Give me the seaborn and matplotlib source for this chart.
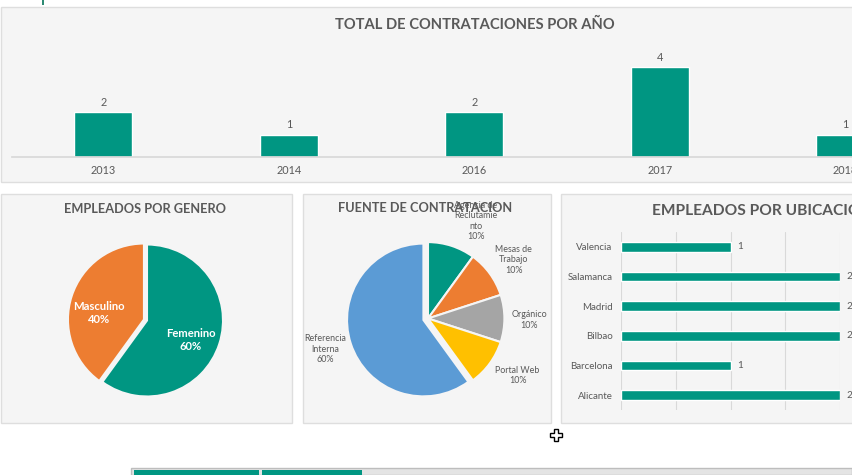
"""
Panel de contrataciones (recreated dashboard)
"""

import matplotlib
matplotlib.use("Agg")
import matplotlib.pyplot as plt
from matplotlib.lines import Line2D
from matplotlib.patches import Rectangle
import seaborn as sns

# --- Data ---
years = ["2013", "2014", "2016", "2017", "2018"]
hires_per_year = [2, 1, 2, 4, 1]

gender_labels = ["Femenino", "Masculino"]
gender_values = [60, 40]

source_labels = ["Agencia de\nReclutamie\nnto", "Mesas de\nTrabajo", "Orgánico", "Portal Web", "Referencia\nInterna"]
source_values = [10, 10, 10, 10, 60]

cities = ["Valencia", "Salamanca", "Madrid", "Bilbao", "Barcelona", "Alicante"]
city_values = [1, 2, 2, 2, 1, 2]

W, H = 852, 475
TEAL = "#009682"
ORANGE = "#ED7D31"
TEXT = "#595959"
PANEL = "#F5F5F5"
BORDER = "#DEDEDE"
SOURCE_COLORS = [TEAL, ORANGE, "#A5A5A5", "#FFC000", "#5B9BD5"]

sns.set_theme(style="white")
plt.rcParams["font.family"] = ["Lato", "DejaVu Sans"]

fig = plt.figure(figsize=(W / 100, H / 100), dpi=100, facecolor="white")


def px_axes(x0, y0, x1, y1):
    """Axes from pixel box, y measured from the top."""
    ax = fig.add_axes([x0 / W, 1 - y1 / H, (x1 - x0) / W, (y1 - y0) / H])
    ax.patch.set_alpha(0)
    return ax


def px_text(x, y, s, **kw):
    kw.setdefault("ha", "center")
    kw.setdefault("va", "center")
    kw.setdefault("color", TEXT)
    fig.text(x / W, 1 - y / H, s, **kw)


def px_rect(x0, y0, x1, y1, face, edge="none", lw=0):
    fig.add_artist(Rectangle((x0 / W, 1 - y1 / H), (x1 - x0) / W, (y1 - y0) / H,
                             transform=fig.transFigure, facecolor=face, edgecolor=edge,
                             linewidth=lw, zorder=-1))


# Panels
px_rect(0.5, 7, 853, 182, PANEL, BORDER, 1)
px_rect(0.5, 194, 292, 423, PANEL, BORDER, 1)
px_rect(303, 194, 551, 423, PANEL, BORDER, 1)
px_rect(561, 194, 853, 423, PANEL, BORDER, 1)

# Bits of the surrounding window
px_rect(42, 0, 44, 5, "#2E8B74")
px_rect(131, 468, 852, 475, "#E4E4E4", "#BDBDBD", 1)
px_rect(134, 470, 259, 475, TEAL)
px_rect(262, 470, 362, 475, TEAL)
fig.add_artist(Line2D([556 / W], [1 - 435 / H], transform=fig.transFigure, marker="P",
                      markersize=9, markerfacecolor="white", markeredgecolor="black",
                      markeredgewidth=1, zorder=5))

# 1. Hires per year
ax = px_axes(12, 40, 852, 157)
sns.barplot(x=years, y=hires_per_year, color=TEAL, saturation=1, width=0.313, ax=ax)
ax.set_xlim(-0.492, 4.036)
ax.set_ylim(0, 5.2)
ax.bar_label(ax.containers[0], padding=3, fontsize=7.8, color=TEXT)
sns.despine(ax=ax, left=True)
ax.spines["bottom"].set_color("#D9D9D9")
ax.set_yticks([])
ax.tick_params(axis="x", length=0, labelsize=7.8, labelcolor=TEXT, pad=6)
px_text(475, 24.5, "TOTAL DE CONTRATACIONES POR AÑO", fontsize=10.6, fontweight="bold")

# 2. Employees by gender
ax = px_axes(67, 240.5, 227, 400.5)
ax.pie(gender_values, colors=[TEAL, ORANGE], startangle=90, counterclock=False, radius=0.95,
       explode=[0, 0.04], wedgeprops={"edgecolor": PANEL, "linewidth": 1.5})
ax.set_xlim(-1, 1)
ax.set_ylim(-1, 1)
px_text(145.5, 209, "EMPLEADOS POR GENERO", fontsize=9.2, fontweight="bold")
for (x, y), name, value in zip([(191, 340), (99, 313)], gender_labels, gender_values):
    px_text(x, y, f"{name}\n{value}%", color="white", fontsize=8.1, fontweight="bold", linespacing=1.25)

# 3. Hiring source
ax = px_axes(348, 238.5, 508, 398.5)
ax.pie(source_values, colors=SOURCE_COLORS, startangle=90, counterclock=False, radius=0.955,
       explode=[0, 0, 0, 0, 0.06], wedgeprops={"edgecolor": PANEL, "linewidth": 1.5})
ax.set_xlim(-1, 1)
ax.set_ylim(-1, 1)
px_text(425.5, 208.5, "FUENTE DE CONTRATACION", fontsize=9.2, fontweight="bold")
source_pos = [(475.5, 221), (513.5, 260), (529, 320), (517.5, 375.5), (325, 349)]
for (x, y), name, value in zip(source_pos, source_labels, source_values):
    px_text(x, y, f"{name}\n{value}%", fontsize=6.4, linespacing=1.2)

# 4. Employees by location
ax = px_axes(621, 232, 840, 410)
sns.barplot(x=city_values, y=cities, color=TEAL, saturation=1, width=0.32, orient="h", ax=ax)
ax.set_xlim(0, 2)
ax.set_xticks([0, 0.5, 1, 1.5, 2])
ax.set_xticklabels([])
ax.grid(axis="x", color="#D9D9D9", linewidth=0.8)
ax.set_axisbelow(True)
sns.despine(ax=ax, left=True, bottom=True)
ax.tick_params(axis="both", length=0)
ax.tick_params(axis="y", labelsize=7, labelcolor=TEXT, pad=6)
ax.bar_label(ax.containers[0], padding=5, fontsize=7.2, color=TEXT, clip_on=False)
px_text(652, 211, "EMPLEADOS POR UBICACION", ha="left", fontsize=11.2, fontweight="bold")

fig.savefig("out.png", dpi=100)
